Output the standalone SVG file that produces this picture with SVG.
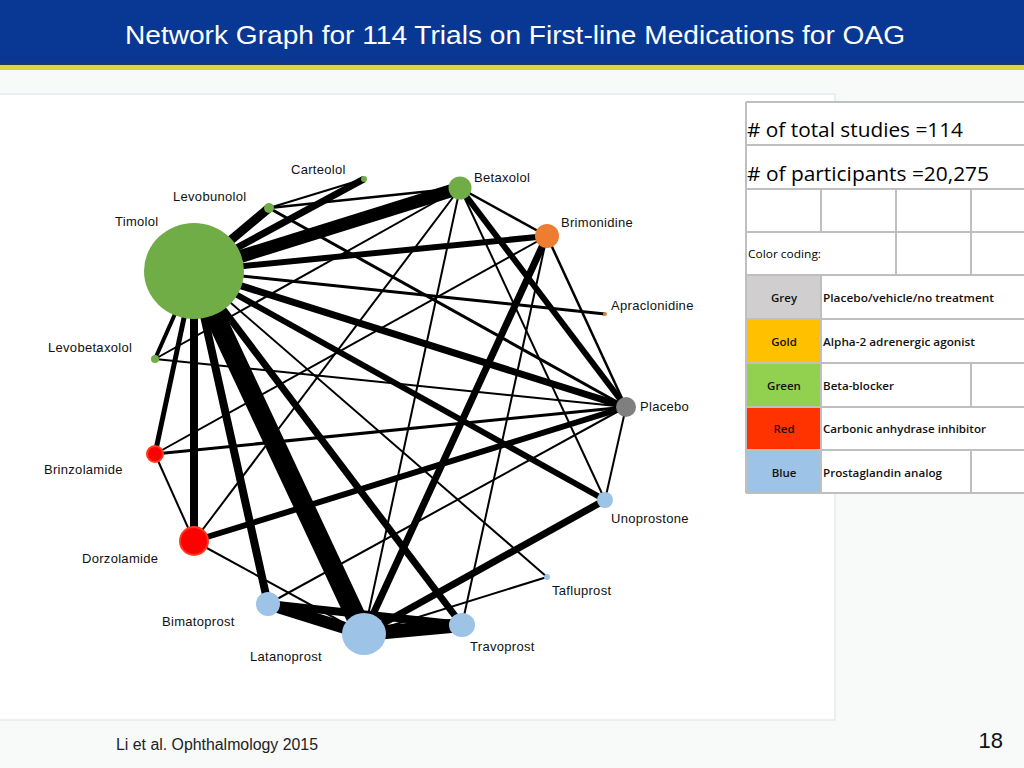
<svg xmlns="http://www.w3.org/2000/svg" width="1024" height="768" viewBox="0 0 1024 768">
<style>
.lbl{font-family:"Liberation Sans",Arial,sans-serif;font-size:13px;fill:#111;letter-spacing:0.3px}
.e{stroke:#000;fill:none;stroke-linecap:butt}
.tl{stroke:#bfbfbf;stroke-width:2;fill:none}
.tt{font-family:"Open Sans","Liberation Sans",sans-serif;fill:#000}
.lg{font-family:"Open Sans","Liberation Sans",sans-serif;font-size:11.5px;font-weight:600;fill:#111}
.g{fill:#70ad47}
.b{fill:#9dc3e6}
.r{fill:#ff0000;stroke:#ff3a1a;stroke-width:2}
</style>
<rect width="1024" height="768" fill="#f8f9f9"/>
<rect x="0" y="0" width="1024" height="63" fill="#083894"/>
<rect x="0" y="63" width="1024" height="2" fill="#2a3a40"/>
<rect x="0" y="65" width="1024" height="5" fill="#d8d83c"/>
<text x="515" y="44" text-anchor="middle" font-family="Liberation Sans,Arial,sans-serif" font-size="25" fill="#fff" textLength="780" lengthAdjust="spacingAndGlyphs">Network Graph for 114 Trials on First-line Medications for OAG</text>
<rect x="-1" y="94" width="836" height="626" fill="#fff" stroke="#e3eaee" stroke-width="1.5"/>

<g id="connectors">
<line class="e" x1="194" y1="271" x2="269" y2="208" stroke-width="9"/>
<line class="e" x1="194" y1="271" x2="364" y2="179" stroke-width="7"/>
<line class="e" x1="194" y1="271" x2="460" y2="188" stroke-width="13"/>
<line class="e" x1="194" y1="271" x2="547" y2="236" stroke-width="6"/>
<line class="e" x1="194" y1="271" x2="605" y2="314" stroke-width="3"/>
<line class="e" x1="194" y1="271" x2="626" y2="407" stroke-width="7"/>
<line class="e" x1="194" y1="271" x2="605" y2="500" stroke-width="6"/>
<line class="e" x1="194" y1="271" x2="547" y2="577" stroke-width="2"/>
<line class="e" x1="194" y1="271" x2="462" y2="625" stroke-width="7"/>
<line class="e" x1="194" y1="271" x2="364" y2="634" stroke-width="20"/>
<line class="e" x1="194" y1="271" x2="268" y2="604" stroke-width="8"/>
<line class="e" x1="194" y1="271" x2="194" y2="541" stroke-width="8"/>
<line class="e" x1="194" y1="271" x2="155" y2="454" stroke-width="5"/>
<line class="e" x1="194" y1="271" x2="155" y2="359" stroke-width="4"/>
<line class="e" x1="269" y1="208" x2="364" y2="179" stroke-width="2"/>
<line class="e" x1="269" y1="208" x2="460" y2="188" stroke-width="2.5"/>
<line class="e" x1="269" y1="208" x2="626" y2="407" stroke-width="3"/>
<line class="e" x1="155" y1="359" x2="460" y2="188" stroke-width="2"/>
<line class="e" x1="155" y1="359" x2="626" y2="407" stroke-width="2"/>
<line class="e" x1="155" y1="454" x2="194" y2="541" stroke-width="2"/>
<line class="e" x1="155" y1="454" x2="626" y2="407" stroke-width="3"/>
<line class="e" x1="155" y1="454" x2="547" y2="236" stroke-width="2"/>
<line class="e" x1="194" y1="541" x2="626" y2="407" stroke-width="6"/>
<line class="e" x1="194" y1="541" x2="460" y2="188" stroke-width="2"/>
<line class="e" x1="194" y1="541" x2="364" y2="634" stroke-width="2"/>
<line class="e" x1="268" y1="604" x2="364" y2="634" stroke-width="12"/>
<line class="e" x1="268" y1="604" x2="462" y2="625" stroke-width="8"/>
<line class="e" x1="268" y1="604" x2="626" y2="407" stroke-width="2"/>
<line class="e" x1="364" y1="634" x2="462" y2="625" stroke-width="14"/>
<line class="e" x1="364" y1="634" x2="547" y2="236" stroke-width="7"/>
<line class="e" x1="364" y1="634" x2="460" y2="188" stroke-width="2"/>
<line class="e" x1="364" y1="634" x2="605" y2="500" stroke-width="7"/>
<line class="e" x1="364" y1="634" x2="547" y2="577" stroke-width="2"/>
<line class="e" x1="460" y1="188" x2="547" y2="236" stroke-width="2.5"/>
<line class="e" x1="460" y1="188" x2="626" y2="407" stroke-width="6"/>
<line class="e" x1="460" y1="188" x2="605" y2="500" stroke-width="2"/>
<line class="e" x1="547" y1="236" x2="626" y2="407" stroke-width="2.5"/>
<line class="e" x1="547" y1="236" x2="462" y2="625" stroke-width="2"/>
<line class="e" x1="626" y1="407" x2="605" y2="500" stroke-width="2"/>
</g>

<g id="n-timolol"><ellipse class="g" cx="194" cy="271" rx="50" ry="48"/><text class="lbl" x="115" y="226">Timolol</text></g>
<g id="n-levobunolol"><circle class="g" cx="269" cy="208" r="5"/><text class="lbl" x="173" y="201">Levobunolol</text></g>
<g id="n-carteolol"><circle class="g" cx="364" cy="179" r="3"/><text class="lbl" x="291" y="174">Carteolol</text></g>
<g id="n-betaxolol"><circle class="g" cx="460" cy="188" r="11.5"/><text class="lbl" x="474" y="182">Betaxolol</text></g>
<g id="n-brimonidine"><circle cx="547" cy="236" r="12" fill="#ed7d31"/><text class="lbl" x="561" y="227">Brimonidine</text></g>
<g id="n-apraclonidine"><circle cx="605" cy="314" r="2" fill="#d9823b"/><text class="lbl" x="611" y="310">Apraclonidine</text></g>
<g id="n-placebo"><circle cx="626" cy="407" r="10" fill="#7f7f7f"/><text class="lbl" x="640" y="411">Placebo</text></g>
<g id="n-unoprostone"><circle class="b" cx="605" cy="500" r="8"/><text class="lbl" x="611" y="523">Unoprostone</text></g>
<g id="n-tafluprost"><circle class="b" cx="547" cy="577" r="3"/><text class="lbl" x="552" y="595">Tafluprost</text></g>
<g id="n-travoprost"><ellipse class="b" cx="462" cy="625" rx="13" ry="12"/><text class="lbl" x="470" y="651">Travoprost</text></g>
<g id="n-latanoprost"><ellipse class="b" cx="364" cy="634" rx="22" ry="21"/><text class="lbl" x="250" y="661">Latanoprost</text></g>
<g id="n-bimatoprost"><circle class="b" cx="268" cy="604" r="12"/><text class="lbl" x="162" y="626">Bimatoprost</text></g>
<g id="n-dorzolamide"><circle class="r" cx="194" cy="541" r="14"/><text class="lbl" x="82" y="563">Dorzolamide</text></g>
<g id="n-brinzolamide"><circle class="r" cx="155" cy="454" r="8"/><text class="lbl" x="44" y="474">Brinzolamide</text></g>
<g id="n-levobetaxolol"><circle class="g" cx="155" cy="359" r="4"/><text class="lbl" x="48" y="352">Levobetaxolol</text></g>

<g id="legend-table">
<rect x="746" y="102" width="280" height="391" fill="#fff"/>
<rect x="746" y="275" width="75" height="44" fill="#d0cece"/>
<rect x="746" y="319" width="75" height="44" fill="#ffc000"/>
<rect x="746" y="363" width="75" height="44" fill="#92d050"/>
<rect x="746" y="407" width="75" height="43" fill="#ff3300"/>
<rect x="746" y="450" width="75" height="43" fill="#9dc3e6"/>
<path class="tl" d="M746 102H1024M746 145H1024M746 189H1024M746 232H1024M746 275H1024M746 319H1024M746 363H1024M746 407H1024M746 450H1024M746 493H1024M746 102V493M821 189V232M821 275V493M896 189V275M971 189V275M971 363V407M971 450V493"/>
<text class="tt" x="747" y="137" font-size="20" textLength="216" lengthAdjust="spacingAndGlyphs"># of total studies =114</text>
<text class="tt" x="747" y="181" font-size="20" textLength="242" lengthAdjust="spacingAndGlyphs"># of participants =20,275</text>
<text class="tt" x="748" y="258" font-size="11.5" textLength="73" lengthAdjust="spacingAndGlyphs">Color coding:</text>
<text class="lg" x="784" y="302" text-anchor="middle">Grey</text>
<text class="lg" x="823" y="302" textLength="171" lengthAdjust="spacingAndGlyphs">Placebo/vehicle/no treatment</text>
<text class="lg" x="784" y="346" text-anchor="middle">Gold</text>
<text class="lg" x="823" y="346" textLength="152" lengthAdjust="spacingAndGlyphs">Alpha-2 adrenergic agonist</text>
<text class="lg" x="784" y="390" text-anchor="middle">Green</text>
<text class="lg" x="823" y="390" textLength="71" lengthAdjust="spacingAndGlyphs">Beta-blocker</text>
<text class="lg" x="784" y="433" text-anchor="middle" fill="#3a0a00">Red</text>
<text class="lg" x="823" y="433" textLength="163" lengthAdjust="spacingAndGlyphs">Carbonic anhydrase inhibitor</text>
<text class="lg" x="784" y="477" text-anchor="middle">Blue</text>
<text class="lg" x="823" y="477" textLength="119" lengthAdjust="spacingAndGlyphs">Prostaglandin analog</text>
</g>

<text x="116" y="750" font-family="Liberation Sans,Arial,sans-serif" font-size="16" fill="#222" textLength="202" lengthAdjust="spacingAndGlyphs">Li et al. Ophthalmology 2015</text>
<text x="1003" y="748" text-anchor="end" font-family="Liberation Sans,Arial,sans-serif" font-size="22" fill="#111">18</text>
</svg>
